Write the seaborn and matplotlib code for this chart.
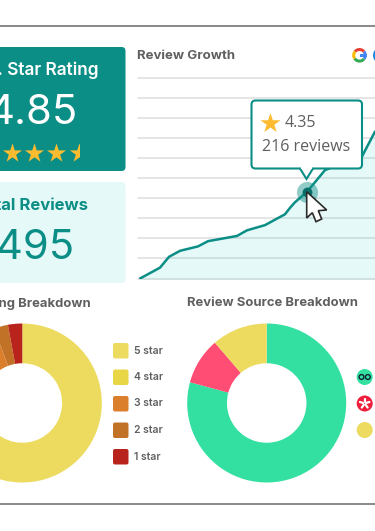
import matplotlib
matplotlib.use('Agg')
import numpy as np
import pandas as pd
import matplotlib.pyplot as plt
import seaborn as sns
from matplotlib.patches import FancyBboxPatch, Polygon, Wedge, Circle, Rectangle

days = [2, 22, 31, 42, 60, 70, 99, 109, 127, 147, 152, 157, 169, 187, 192, 224, 237]
reviews = [0, 27, 54, 69, 80, 93, 106, 120, 133, 160, 176, 190, 216, 270, 275, 304, 366]
grid_ticks = [0, 50, 100, 150, 200, 250, 300, 350, 400, 450, 500]

rating_labels = ['5 star', '4 star', '3 star', '2 star', '1 star']
rating_share = [85.0, 4.2, 5.0, 2.9, 2.9]
rating_colors = ['#ECDB5E', '#E9D646', '#DC7F2C', '#C27226', '#B8241C']

source_share = [79.2, 9.5, 11.3]
source_colors = ['#34E0A1', '#FF4D73', '#ECDB5E']
source_legend = ['#34E0A1', '#F01E3C', '#ECDB5E']

W, H = 375, 531
TEAL = '#0B8E85'
GREY = '#5F5F5F'
FONT = ['Inter', 'DejaVu Sans']

sns.set_theme(style='white')
plt.rcParams['font.family'] = FONT

fig = plt.figure(figsize=(W / 100, H / 100), dpi=100, facecolor='white')


def px_axes(x0, y0, x1, y1):
    # box given in image pixels, y measured from the top
    return fig.add_axes([x0 / W, 1 - y1 / H, (x1 - x0) / W, (y1 - y0) / H])


bg = px_axes(0, 0, W, H)
bg.set_xlim(0, W)
bg.set_ylim(H, 0)
bg.axis('off')
bg.plot([0, W], [26, 26], color='#808080', lw=1.3)
bg.plot([0, W], [503.5, 503.5], color='#808080', lw=1.3)


def card(ax, x0, y0, x1, y1, color):
    ax.add_patch(FancyBboxPatch((x0, y0), x1 - x0, y1 - y0, boxstyle='round,pad=0,rounding_size=4',
                                fc=color, ec='none'))


card(bg, -20, 47, 125.5, 171, TEAL)
card(bg, -20, 182, 125.5, 283, '#E5F9F8')
bg.text(98.5, 70, 'Avg. Star Rating', color='white', fontsize=12.4, fontweight='semibold', ha='right', va='center')
bg.text(78, 113, '4.85', color='white', fontsize=30, ha='right', va='center')
bg.text(88.5, 205, 'Total Reviews', color=TEAL, fontsize=12, fontweight='bold', ha='right', va='center')
bg.text(74, 248, '1495', color=TEAL, fontsize=30, ha='right', va='center')
bg.text(137, 56, 'Review Growth', color=GREY, fontsize=9.5, fontweight='bold', va='center')
bg.text(90.5, 303.5, 'Rating Breakdown', color=GREY, fontsize=9.4, fontweight='bold', ha='right', va='center')
bg.text(187, 303.5, 'Review Source Breakdown', color=GREY, fontsize=9.4, fontweight='bold', va='center')

# review growth chart, one gridline every 50 reviews
ax = px_axes(138, 77, W, 278.5)
df = pd.DataFrame({'day': days, 'reviews': reviews})
ax.fill_between(df['day'], df['reviews'], color='#E5F9F8', zorder=1)
sns.lineplot(data=df, x='day', y='reviews', color=TEAL, lw=1.8, ax=ax, zorder=3)
for t in grid_ticks:
    ax.axhline(t, color='#1a1a1a', alpha=0.14, lw=1.1, zorder=2, clip_on=False)
ax.set_xlim(0, 237)
ax.set_ylim(0, 502)
ax.axis('off')

# pies
def donut(cx, cy, share, colors):
    r = 79.5
    a = px_axes(cx - r, cy - r, cx + r, cy + r)
    a.pie(share, colors=colors, startangle=90, counterclock=False, radius=1,
          wedgeprops={'width': 0.5, 'linewidth': 0})
    a.set_xlim(-1, 1)
    a.set_ylim(-1, 1)


donut(22.3, 403, rating_share, rating_colors)
donut(266.7, 403, source_share, source_colors)

# overlay for things on top of the charts
top = px_axes(0, 0, W, H)
top.set_xlim(0, W)
top.set_ylim(H, 0)
top.axis('off')
top.patch.set_alpha(0)

for ly, lab, col in zip([350.5, 377, 403.5, 430, 456.5], rating_labels, rating_colors):
    top.add_patch(FancyBboxPatch((113, ly - 7.5), 15.5, 15.5, boxstyle='round,pad=0,rounding_size=2', fc=col, ec='none'))
    top.text(134, ly, lab, color=GREY, fontsize=7.5, fontweight='semibold', va='center')

for ly, col in zip([377, 403.5, 430], source_legend):
    top.add_patch(Circle((364.7, ly), 8, fc=col, ec='none'))
top.add_patch(Circle((361.5, 377), 2.4, fc='none', ec='#123', lw=1))
top.add_patch(Circle((367.8, 377), 2.4, fc='none', ec='#123', lw=1))
for a in np.deg2rad([90, 162, 234, 306, 18]):
    top.plot([364.7 + 1.5 * np.cos(a), 364.7 + 5 * np.cos(a)], [403.5 - 1.5 * np.sin(a), 403.5 - 5 * np.sin(a)],
             color='white', lw=1.6)

# rating stars, the last one half filled
for sx in [-10, 12, 34, 56]:
    top.scatter(sx, 152.5, marker='*', s=210, color='#FDBB30', lw=0)
half = top.scatter(78.5, 152.5, marker='*', s=210, color='#FDBB30', lw=0)
half.set_clip_path(Rectangle((0, 0), 78.7, H, transform=top.transData))

# google logo
for start, end, col in [(-40, 40, '#4285F4'), (40, 140, '#EA4335'), (140, 215, '#FBBC05'), (215, 320, '#34A853')]:
    top.add_patch(Wedge((359.5, 55.3), 7.3, -end, -start, width=3, fc=col, ec='none'))
top.add_patch(Rectangle((359.5, 53.8), 7.3, 3, fc='#4285F4', ec='none'))
top.add_patch(Wedge((381, 55.3), 8, 0, 360, width=3, fc='#1E88E5', ec='none'))

# hover marker and tooltip
top.scatter(306.7, 192, s=230, color=TEAL, alpha=0.45, lw=0)
top.scatter(306.7, 192, s=50, color='#086F68', lw=0)
top.add_patch(FancyBboxPatch((251.5, 100.5), 110.5, 68, boxstyle='round,pad=0,rounding_size=4', fc='white', ec=TEAL, lw=1.5))
top.add_patch(Polygon([(300, 168.5), (306.5, 179), (313, 168.5)], closed=False, fc='white', ec=TEAL, lw=1.5, joinstyle='miter'))
top.add_patch(Rectangle((301, 166), 11, 3, fc='white', ec='none'))
top.scatter(270, 123, marker='*', s=230, color='#FDBB30', lw=0)
top.text(285, 123, '4.35', color=GREY, fontsize=11.5, family=['Open Sans', 'DejaVu Sans'], va='center')
top.text(261.5, 147, '216 reviews', color=GREY, fontsize=11.5, family=['Open Sans', 'DejaVu Sans'], va='center')

cursor_x = [306.7, 306.7, 312.3, 316, 321.7, 318.3, 326.7]
cursor_y = [191.7, 218, 212.7, 221.7, 219, 210.7, 210]
top.add_patch(Polygon(np.column_stack([cursor_x, cursor_y]), fc='white', ec='#2b2b2b', lw=1.2, joinstyle='miter'))

fig.savefig('out.png', dpi=100)
